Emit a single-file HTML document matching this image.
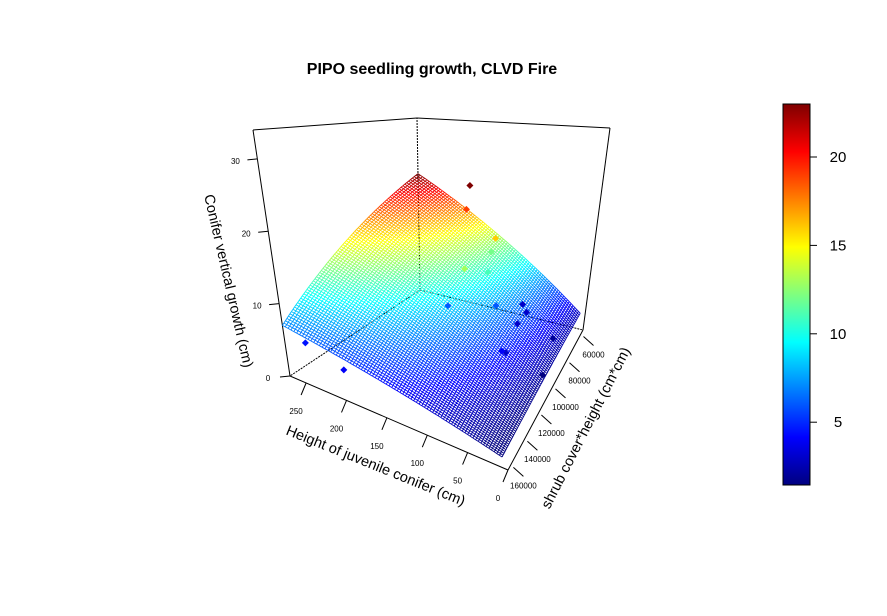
<!DOCTYPE html>
<html><head><meta charset="utf-8">
<style>
html,body{margin:0;padding:0;background:#fff;}
svg{display:block;font-family:"Liberation Sans",Arial,sans-serif;}
</style></head>
<body>
<svg id="chart" width="887" height="616" viewBox="0 0 887 616" xmlns="http://www.w3.org/2000/svg">
<rect width="887" height="616" fill="#fff"/>
<text x="432" y="74" text-anchor="middle" font-size="16" font-weight="bold">PIPO seedling growth, CLVD Fire</text>
<g id="box"></g>
<g id="surface"></g>
<g id="points"></g>
<g id="axes"></g>
<g id="cbar"></g>
<text transform="translate(224,282) rotate(77)" text-anchor="middle" font-size="14.5">Conifer vertical growth (cm)</text>
<text transform="translate(374,470) rotate(22)" text-anchor="middle" font-size="14.5">Height of juvenile conifer (cm)</text>
<text transform="translate(590,430) rotate(-63)" text-anchor="middle" font-size="14.5">shrub cover*height (cm*cm)</text>
</svg>
<script>
// ---- data ----
const surfaceCornerZ = [2, 23, 7, 1]; // (x=0,smin), (x=max,smin), (x=max,smax), (x=0,smax)
const pointX = [175,175,120,140,135,122,162,108,95,81,81,68,68,27,14,256,200];
const pointS = [65500,68000,76000,66000,95000,81000,92000,81000,60000,65500,76000,100000,105000,75000,100000,155000,162000];
const pointZ = [23,19,16,12,13,11,6,6,3,3,3,3,4,2,1.5,4.5,4];
const xTicks = [0,50,100,150,200,250];
const sTicks = [60000,80000,100000,120000,140000,160000];
const zTicks = [0,10,20,30];
const cbarTicks = [5,10,15,20];
// ---- scales ----
const X_MAX=270, S_MIN=55000, S_MAX=162000, Z_MAX=34, C_MIN=1.45, C_MAX=23;
const A=[290,376],B=[508,470],C=[583,330],D=[420,290];
const At=[253,130],Bt=[525,175],Ct=[610,128],Dt=[417,118];
function proj(x,s,z){
  const u=x/X_MAX, v=(s-S_MIN)/(S_MAX-S_MIN), w=z/Z_MAX;
  const wc=(1-u)*(1-v), wd=u*(1-v), wa=u*v, wb=(1-u)*v;
  const bx=wc*C[0]+wd*D[0]+wa*A[0]+wb*B[0], by=wc*C[1]+wd*D[1]+wa*A[1]+wb*B[1];
  const tx=wc*Ct[0]+wd*Dt[0]+wa*At[0]+wb*Bt[0], ty=wc*Ct[1]+wd*Dt[1]+wa*At[1]+wb*Bt[1];
  return [bx+(tx-bx)*w, by+(ty-by)*w];
}
const jet=[[0,0,127],[0,0,255],[0,127,255],[0,255,255],[127,255,127],[255,255,0],[255,127,0],[255,0,0],[127,0,0]];
function col(z){
  let t=(z-C_MIN)/(C_MAX-C_MIN); t=Math.max(0,Math.min(1,t))*(jet.length-1);
  const i=Math.min(jet.length-2,Math.floor(t)), f=t-i;
  const c=jet[i].map((a,k)=>Math.round(a+(jet[i+1][k]-a)*f));
  return `rgb(${c[0]},${c[1]},${c[2]})`;
}
function surfZ(x,s){
  const u=x/X_MAX, v=(s-S_MIN)/(S_MAX-S_MIN);
  return surfaceCornerZ[0]*(1-u)*(1-v)+surfaceCornerZ[1]*u*(1-v)+surfaceCornerZ[2]*u*v+surfaceCornerZ[3]*(1-u)*v;
}
const NS="http://www.w3.org/2000/svg";
function mk(tag,attrs,parent){const e=document.createElementNS(NS,tag);for(const k in attrs)e.setAttribute(k,attrs[k]);parent.appendChild(e);return e;}
function line(p,q,parent,extra){return mk('line',Object.assign({x1:p[0].toFixed(1),y1:p[1].toFixed(1),x2:q[0].toFixed(1),y2:q[1].toFixed(1),stroke:'#000','stroke-width':1},extra||{}),parent);}
// box
const box=document.getElementById('box');
const pA=proj(X_MAX,S_MAX,0),pB=proj(0,S_MAX,0),pC=proj(0,S_MIN,0),pD=proj(X_MAX,S_MIN,0);
const tA=proj(X_MAX,S_MAX,Z_MAX),tC=proj(0,S_MIN,Z_MAX),tD=proj(X_MAX,S_MIN,Z_MAX);
[[pD,pA],[pD,pC],[pD,tD]].forEach(([p,q])=>{const l=line(p,q,box,{'stroke-dasharray':'2,1'});});
[[pA,pB],[pB,pC],[pA,tA],[pC,tC],[tA,tD],[tD,tC]].forEach(([p,q])=>{const l=line(p,q,box);});
// surface
const surf=document.getElementById('surface');
const N=80, x0=8, x1=X_MAX, s0=S_MIN, s1=S_MAX;
let parts={};
function addSeg(p,q,z){const c=col(z);(parts[c]=parts[c]||[]).push(`M${p[0].toFixed(1)} ${p[1].toFixed(1)}L${q[0].toFixed(1)} ${q[1].toFixed(1)}`);}
for(let i=0;i<=N;i++){for(let j=0;j<N;j++){
  const xi=x0+(x1-x0)*i/N, sj=s0+(s1-s0)*j/N, sj2=s0+(s1-s0)*(j+1)/N;
  const z1=surfZ(xi,sj),z2=surfZ(xi,sj2);addSeg(proj(xi,sj,z1),proj(xi,sj2,z2),(z1+z2)/2);
  const si=s0+(s1-s0)*i/N, xj=x0+(x1-x0)*j/N, xj2=x0+(x1-x0)*(j+1)/N;
  const z3=surfZ(xj,si),z4=surfZ(xj2,si);addSeg(proj(xj,si,z3),proj(xj2,si,z4),(z3+z4)/2);
}}
for(const c in parts){const p=mk('path',{d:parts[c].join(''),stroke:c,'stroke-width':0.9,fill:'none'},surf);}
// points
const pts=document.getElementById('points');
for(let i=0;i<pointX.length;i++){
  const p=proj(pointX[i],pointS[i],pointZ[i]);const r=3.5;
  const e=mk('polygon',{points:`${p[0]},${p[1]-r} ${p[0]+r},${p[1]} ${p[0]},${p[1]+r} ${p[0]-r},${p[1]}`,fill:col(pointZ[i])},pts);
  
  
}
// axes ticks
const ax=document.getElementById('axes');
function txt(x,y,s,parent,size,name){const t=mk('text',{x:x.toFixed(1),y:y.toFixed(1),'text-anchor':'middle','font-size':size||8},parent);t.textContent=s;return t;}
zTicks.forEach(z=>{const p=proj(X_MAX,S_MAX,z);const l=line(p,[p[0]-10,p[1]+1],ax);txt(p[0]-22,p[1]+5,String(z),ax,8,'z-tick-label');});
xTicks.forEach(x=>{const p=proj(x,S_MAX,0);const l=line(p,[p[0]-5,p[1]+12],ax);txt(p[0]-10,p[1]+31,String(x),ax,8,'x-tick-label');});
sTicks.forEach(s=>{const p=proj(0,s,0);const l=line([p[0]+4,p[1]],[p[0]+14,p[1]+9],ax);txt(p[0]+14,p[1]+21,String(s),ax,8,'y-tick-label');});
// color bar
const cb=document.getElementById('cbar');
const CB_X=783,CB_W=27,CB_T=104,CB_B=485;
const defs=mk('defs',{},cb);const g=mk('linearGradient',{id:'jetg',x1:0,y1:1,x2:0,y2:0},defs);
jet.forEach((c,i)=>mk('stop',{offset:(i/(jet.length-1)).toFixed(3),'stop-color':`rgb(${c})`},g));
const rr=mk('rect',{x:CB_X,y:CB_T,width:CB_W,height:CB_B-CB_T,fill:'url(#jetg)',stroke:'#000','stroke-width':1},cb);

function cy(v){return CB_B-(v-C_MIN)/(C_MAX-C_MIN)*(CB_B-CB_T);}
cbarTicks.forEach(v=>{const y=cy(v);const l=line([CB_X+CB_W,y],[CB_X+CB_W+7,y],cb);const t=txt(838,y+5,String(v),cb,15,'colorbar-tick-label');});
</script>
</body></html>
